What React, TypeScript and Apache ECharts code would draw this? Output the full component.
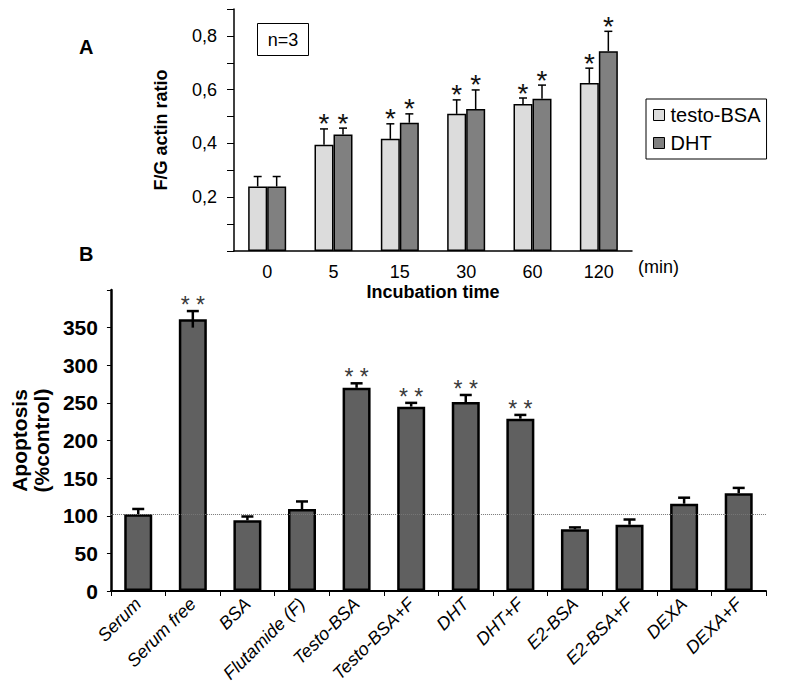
import React, { useEffect, useRef } from "react";
import * as echarts from "echarts";

// ---------- Panel A data ----------
const timeCats = ["0", "5", "15", "30", "60", "120"];
const testoA = [0.24, 0.395, 0.417, 0.51, 0.547, 0.625];
const testoUpperA = [0.277, 0.454, 0.473, 0.562, 0.569, 0.68];
const dhtA = [0.24, 0.433, 0.477, 0.528, 0.566, 0.743];
const dhtUpperA = [0.277, 0.457, 0.51, 0.599, 0.617, 0.817];
const testoSigA = ["", "*", "*", "*", "*", "*"];
const dhtSigA = ["", "*", "*", "*", "*", "*"];
const ratioTicks = [0.2, 0.4, 0.6, 0.8];

// ---------- Panel B data ----------
const treatments = [
  "Serum", "Serum free", "BSA", "Flutamide (F)", "Testo-BSA", "Testo-BSA+F",
  "DHT", "DHT+F", "E2-BSA", "E2-BSA+F", "DEXA", "DEXA+F",
];
const apoptosis = [102, 361, 94, 109, 270, 245, 251, 229, 82, 88, 116, 130];
const apoptosisErr = [7, 11, 5, 10, 6, 5, 9.5, 5, 2.5, 7, 8, 7];
const apoptosisErrLow = [0, 11, 0, 0, 0, 0, 0, 0, 0, 0, 0, 0];
const apoptosisSig = ["", "* *", "", "", "* *", "* *", "* *", "* *", "", "", "", ""];
const controlLevel = 102;

const FONT = "'Liberation Sans', Arial, sans-serif";
const BAR_W_A = 19;

function errA(values: number[], upper: number[], sig: string[], offset: number) {
  return (params: any, api: any) => {
    const i = params.dataIndex;
    const p0 = api.coord([i, values[i]]);
    const p1 = api.coord([i, upper[i]]);
    const x = p0[0] + offset;
    const children: any[] = [
      { type: "line", shape: { x1: x, y1: p0[1], x2: x, y2: p1[1] }, style: { stroke: "#000", lineWidth: 1.5 } },
      { type: "line", shape: { x1: x - 4, y1: p1[1], x2: x + 4, y2: p1[1] }, style: { stroke: "#000", lineWidth: 1.5 } },
    ];
    if (sig[i]) {
      children.push({
        type: "text",
        style: { text: sig[i], x, y: p1[1] - 5, fontSize: 28, fontFamily: FONT, fill: "#111", align: "center", verticalAlign: "middle" },
      });
    }
    return { type: "group", children };
  };
}

function errB(params: any, api: any) {
  const i = params.dataIndex;
  const p0 = api.coord([i, apoptosis[i]]);
  const p1 = api.coord([i, apoptosis[i] + apoptosisErr[i]]);
  const p2 = api.coord([i, apoptosis[i] - apoptosisErrLow[i]]);
  const x = p0[0];
  const children: any[] = [
    { type: "line", shape: { x1: x, y1: p2[1], x2: x, y2: p1[1] }, style: { stroke: "#000", lineWidth: 2.5 } },
    { type: "line", shape: { x1: x - 6, y1: p1[1], x2: x + 6, y2: p1[1] }, style: { stroke: "#000", lineWidth: 2.5 } },
  ];
  if (apoptosisSig[i]) {
    children.push({
      type: "text",
      style: { text: apoptosisSig[i], x, y: p1[1] - 6, fontSize: 23, fontFamily: FONT, fill: "#3a3a3a", align: "center", verticalAlign: "middle" },
    });
  }
  return { type: "group", children };
}

export default function App() {
  const ref = useRef<HTMLDivElement>(null);
  useEffect(() => {
    if (!ref.current) return;
    const chart = echarts.init(ref.current, null, { renderer: "svg" });
    const option: any = {
      animation: false,
      backgroundColor: "#fff",
      textStyle: { fontFamily: FONT },
      legend: {
        data: ["testo-BSA", "DHT"],
        left: 646,
        top: 99,
        orient: "vertical",
        icon: "rect",
        itemWidth: 11,
        itemHeight: 11,
        itemGap: 8,
        padding: [6, 6, 6, 7],
        borderColor: "#000",
        borderWidth: 1,
        itemStyle: { borderColor: "#000", borderWidth: 1 },
        textStyle: { fontSize: 20, color: "#000", fontFamily: FONT, padding: [0, 0, 0, 1] },
      },
      grid: [
        { left: 234, right: 159, top: 9, bottom: 446 },
        { left: 105, right: 25, top: 290, bottom: 106 },
      ],
      xAxis: [
        {
          gridIndex: 0,
          type: "category",
          data: timeCats,
          axisLine: { lineStyle: { color: "#000", width: 1.5 } },
          axisTick: { show: false },
          axisLabel: { fontSize: 18, color: "#000", margin: 12, fontFamily: FONT },
          name: "Incubation time",
          nameLocation: "middle",
          nameGap: 32,
          nameTextStyle: { fontSize: 18, fontWeight: "bold", color: "#000", fontFamily: FONT },
        },
        {
          gridIndex: 1,
          type: "category",
          data: treatments,
          axisLine: { lineStyle: { color: "#000", width: 2 } },
          axisTick: { show: true, length: 5, lineStyle: { color: "#000", width: 1 } },
          axisLabel: {
            interval: 0,
            rotate: 45,
            fontSize: 18,
            fontStyle: "italic",
            color: "#000",
            margin: 10,
            fontFamily: FONT,
          },
        },
      ],
      yAxis: [
        {
          gridIndex: 0,
          type: "value",
          min: 0,
          max: 0.9,
          interval: 0.1,
          splitLine: { show: false },
          axisLine: { show: true, lineStyle: { color: "#000", width: 1.5 } },
          axisTick: { show: true, length: 7, lineStyle: { color: "#000", width: 1 } },
          axisLabel: {
            fontSize: 18,
            color: "#000",
            margin: 17,
            fontFamily: FONT,
            formatter: (v: number) => {
              const hit = ratioTicks.find((t) => Math.abs(t - v) < 1e-6);
              return hit !== undefined ? String(hit).replace(".", ",") : "";
            },
          },
          name: "F/G actin ratio",
          nameLocation: "middle",
          nameGap: 64,
          nameTextStyle: { fontSize: 18, fontWeight: "bold", color: "#000", fontFamily: FONT },
        },
        {
          gridIndex: 1,
          type: "value",
          min: 0,
          max: 400,
          interval: 50,
          splitLine: { show: false },
          axisLine: { show: true, lineStyle: { color: "#000", width: 2.5 } },
          axisTick: { show: true, length: 4, lineStyle: { color: "#000", width: 1 } },
          axisLabel: {
            fontSize: 21,
            fontWeight: "bold",
            color: "#000",
            margin: 13,
            fontFamily: FONT,
            formatter: (v: number) => (v >= 400 ? "" : String(v)),
          },
          name: "Apoptosis\n(%control)",
          nameLocation: "middle",
          nameGap: 52,
          nameTextStyle: { fontSize: 21, fontWeight: "bold", color: "#000", fontFamily: FONT, lineHeight: 22 },
        },
      ],
      series: [
        {
          name: "testo-BSA",
          type: "bar",
          xAxisIndex: 0,
          yAxisIndex: 0,
          data: testoA,
          barWidth: BAR_W_A,
          barGap: "0%",
          itemStyle: { color: "#dcdcdc", borderColor: "#000", borderWidth: 1.5 },
        },
        {
          name: "DHT",
          type: "bar",
          xAxisIndex: 0,
          yAxisIndex: 0,
          data: dhtA,
          barWidth: BAR_W_A,
          barGap: "0%",
          itemStyle: { color: "#808080", borderColor: "#000", borderWidth: 1.5 },
        },
        {
          name: "errTesto",
          type: "custom",
          xAxisIndex: 0,
          yAxisIndex: 0,
          data: testoA.map((v, i) => [i, v]),
          renderItem: errA(testoA, testoUpperA, testoSigA, -BAR_W_A / 2),
          z: 3,
        },
        {
          name: "errDHT",
          type: "custom",
          xAxisIndex: 0,
          yAxisIndex: 0,
          data: dhtA.map((v, i) => [i, v]),
          renderItem: errA(dhtA, dhtUpperA, dhtSigA, BAR_W_A / 2),
          z: 3,
        },
        {
          name: "Apoptosis",
          type: "bar",
          xAxisIndex: 1,
          yAxisIndex: 1,
          data: apoptosis,
          barWidth: 28,
          itemStyle: { color: "#606060", borderColor: "#000", borderWidth: 2.5 },
          markLine: {
            silent: true,
            symbol: "none",
            label: { show: false },
            lineStyle: { color: "#777", type: "dotted", width: 1 },
            data: [{ yAxis: controlLevel }],
          },
        },
        {
          name: "errApoptosis",
          type: "custom",
          xAxisIndex: 1,
          yAxisIndex: 1,
          data: apoptosis.map((v, i) => [i, v]),
          renderItem: errB,
          z: 3,
        },
      ],
      graphic: [
        { type: "text", left: 79, top: 37, style: { text: "A", fontSize: 20, fontWeight: "bold", fontFamily: FONT, fill: "#000" } },
        { type: "text", left: 79, top: 244, style: { text: "B", fontSize: 20, fontWeight: "bold", fontFamily: FONT, fill: "#000" } },
        { type: "text", left: 638, top: 258, style: { text: "(min)", fontSize: 18, fontFamily: FONT, fill: "#000" } },
        {
          type: "group",
          left: 257,
          top: 23,
          children: [
            { type: "rect", shape: { x: 0, y: 0, width: 51, height: 32 }, style: { fill: "#fff", stroke: "#000", lineWidth: 1 } },
            { type: "text", style: { text: "n=3", x: 25.5, y: 16, fontSize: 18, fontFamily: FONT, fill: "#000", align: "center", verticalAlign: "middle" } },
          ],
        },
      ],
    };
    chart.setOption(option);
    return () => chart.dispose();
  }, []);
  return <div ref={ref} style={{ position: "absolute", left: 0, top: 0, width: 791, height: 697 }} />;
}
